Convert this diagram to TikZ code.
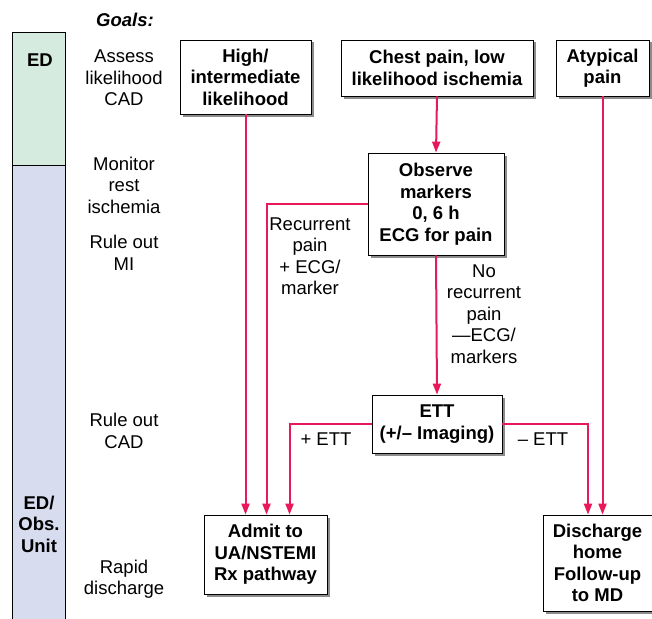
\documentclass[tikz,border=0pt]{standalone}
\usepackage{fontspec}
\setmainfont{Liberation Sans}
\usepackage{tikz}
\usetikzlibrary{arrows.meta, shadows}
\definecolor{edGreen}{HTML}{D5EBDF}
\definecolor{obsBlue}{HTML}{D7DCEF}
\definecolor{flowRed}{HTML}{E8185A}
\definecolor{shadeGray}{HTML}{8C8C8C}
\newcommand{\txt}{\fontsize{18.5}{21.5}\selectfont}

\begin{document}
\begin{tikzpicture}[x=1pt, y=-1pt, font=\txt, box/.style={draw, line width=0.8pt, fill=white, align=center, inner sep=0pt, font=\txt\bfseries, drop shadow={shadow xshift=2.5pt, shadow yshift=-2.5pt, fill=shadeGray, opacity=1}}, goal/.style={align=center, font=\txt}, lbl/.style={align=center, font=\txt}, arr/.style={draw=flowRed, line width=2pt, -{Triangle[length=11pt, width=8pt]}}]
\useasboundingbox (0,0) rectangle (652,618);
\fill[edGreen] (12,32) rectangle (65,165);
\fill[obsBlue] (12,165) rectangle (65,630);
\draw[line width=0.8pt] (12,630) -- (12,32) -- (65,32) -- (65,630); \draw[line width=0.8pt] (12,165) -- (65,165);
\node[font=\txt\bfseries\itshape] (goals) at (125,20) {Goals:};
\node[font=\txt\bfseries] (ed) at (40,60) {ED};
\node[font=\txt\bfseries, align=center] (edobs) at (39,524) {ED/\\Obs.\\Unit};
\node[goal] (g1) at (124,78) {Assess\\likelihood\\CAD};
\node[goal] (g2) at (124,185) {Monitor\\rest\\ischemia};
\node[goal] (g3) at (124,253) {Rule out\\MI};
\node[goal] (g4) at (124,431) {Rule out\\CAD};
\node[goal] (g5) at (124,579) {Rapid\\discharge};
\node[box, minimum width=131pt, minimum height=74pt] (high) at (245.5,77) {High/\\intermediate\\likelihood};
\node[box, minimum width=192pt, minimum height=56pt] (chest) at (437,68) {Chest pain, low\\likelihood ischemia};
\node[box, minimum width=93pt, minimum height=56pt] (atyp) at (602.5,68) {Atypical\\pain};
\node[box, minimum width=136pt, minimum height=102pt] (obs) at (436,204) {Observe\\markers\\0, 6 h\\ECG for pain};
\node[box, minimum width=130pt, minimum height=58pt] (ett) at (437,424) {ETT\\(+/– Imaging)};
\node[box, minimum width=123pt, minimum height=79pt] (admit) at (265.5,554.5) {Admit to\\UA/NSTEMI\\Rx pathway};
\node[box, minimum width=109pt, minimum height=96pt] (disch) at (597.5,563) {Discharge\\home\\Follow-up\\to MD};
\node[lbl] (recur) at (310,256) {Recurrent\\pain\\+ ECG/\\marker};
\node[lbl] (norecur) at (484,314) {No\\recurrent\\pain\\—ECG/\\markers};
\node[lbl] (pett) at (326,439) {+ ETT};
\node[lbl] (mett) at (543,439) {– ETT};
\draw[arr] (high.south) -- (high.south |- admit.north);
\draw[arr] (obs.west) -| ([xshift=1pt]admit.north);
\draw[arr] (ett.west) -| ([xshift=24pt]admit.north);
\draw[arr] (chest.south) -- (obs.north);
\draw[arr] (obs.south) -- (ett.north);
\draw[arr] (ett.east) -| ([xshift=-9.5pt]disch.north);
\draw[arr] (atyp.south) -- (atyp.south |- disch.north);
\end{tikzpicture}
\end{document}
